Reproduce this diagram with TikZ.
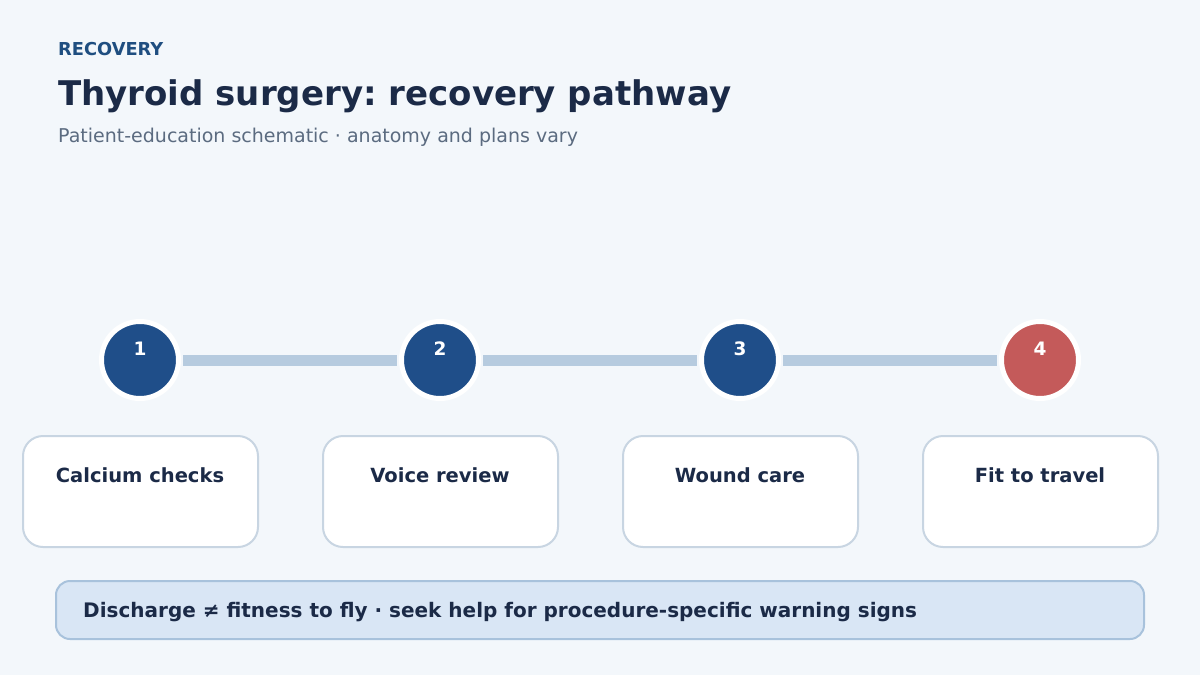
\documentclass[tikz,border=0pt]{standalone}
\usepackage{fontspec}
\setmainfont{DejaVu Sans}
\usepackage{tikz}
\usetikzlibrary{positioning}
\frenchspacing

\definecolor{pagebg}{HTML}{F3F7FB}
\definecolor{navy}{HTML}{1B2A47}
\definecolor{kicker}{HTML}{1F4E80}
\definecolor{subgray}{HTML}{5B6B80}
\definecolor{stepblue}{HTML}{1F4E89}
\definecolor{stepred}{HTML}{C45A5A}
\definecolor{linkblue}{HTML}{B6CBDF}
\definecolor{cardline}{HTML}{C8D5E2}
\definecolor{notefill}{HTML}{D9E6F5}
\definecolor{noteline}{HTML}{A8C2DC}

\begin{document}
\begin{tikzpicture}[x=1pt, y=-1pt,
    stepdot/.style={circle, fill=#1, draw=white, line width=5pt, minimum size=77pt, inner sep=0pt},
    stepnum/.style={anchor=base, text=white, font=\fontsize{18.5}{20}\selectfont\bfseries, inner sep=0pt},
    link/.style={draw=linkblue, line width=11pt, shorten <=2pt, shorten >=2pt},
    card/.style={draw=cardline, fill=white, line width=2pt, rounded corners=20pt, minimum width=235pt, minimum height=111pt},
    cardtext/.style={anchor=base, text=navy, font=\fontsize{19.5}{22}\selectfont\bfseries, inner sep=0pt}]
    \fill[pagebg] (0,0) rectangle (1200,675);
    \useasboundingbox (0,0) rectangle (1200,675);

    % heading
    \node[anchor=base west, inner sep=0pt, text=kicker, font=\fontsize{17.8}{20}\selectfont\bfseries] (kick) at (58,55) {RECOVERY};
    \node[anchor=base west, inner sep=0pt, text=navy, font=\fontsize{34}{40}\selectfont\bfseries] (title) at (58,105) {Thyroid surgery: recovery pathway};
    \node[anchor=base west, inner sep=0pt, text=subgray, font=\fontsize{19}{22}\selectfont] (sub) at (58,142) {Patient-education schematic · anatomy and plans vary};

    % steps
    \node[stepdot=stepblue] (c1) at (140,360) {};
    \node[stepdot=stepblue] (c2) at (440,360) {};
    \node[stepdot=stepblue] (c3) at (740,360) {};
    \node[stepdot=stepred] (c4) at (1040,360) {};
    \draw[link] (c1) -- (c2);
    \draw[link] (c2) -- (c3);
    \draw[link] (c3) -- (c4);
    \node[stepnum] (n1) at (140,355) {1};
    \node[stepnum] (n2) at (440,355) {2};
    \node[stepnum] (n3) at (740,355) {3};
    \node[stepnum] (n4) at (1040,355) {4};

    % cards
    \node[card] (b1) at (140.5,491.5) {};
    \node[card] (b2) at (440.5,491.5) {};
    \node[card] (b3) at (740.5,491.5) {};
    \node[card] (b4) at (1040.5,491.5) {};
    \node[cardtext] (t1) at (140,482) {Calcium checks};
    \node[cardtext] (t2) at (440,482) {Voice review};
    \node[cardtext] (t3) at (740,482) {Wound care};
    \node[cardtext] (t4) at (1040,482) {Fit to travel};

    % note
    \draw[draw=noteline, fill=notefill, line width=2pt, rounded corners=14pt] (56,581) rectangle (1144,639);
    \node[anchor=base west, inner sep=0pt, text=navy, font=\fontsize{20}{22}\selectfont\bfseries] (note) at (83,617) {Discharge ≠ fitness to fly · seek help for procedure-specific warning signs};
\end{tikzpicture}
\end{document}
